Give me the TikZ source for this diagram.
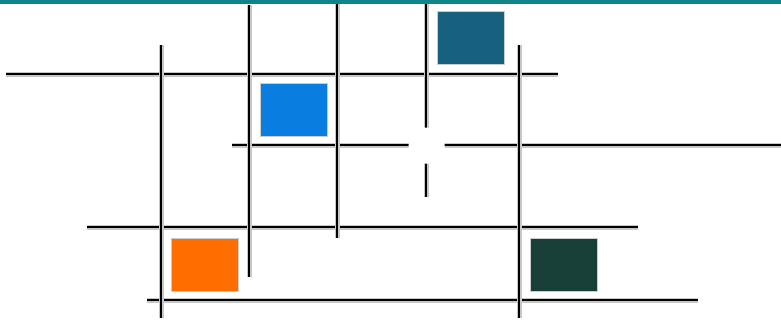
\documentclass[tikz,border=0pt]{standalone}
\begin{document}
\begin{tikzpicture}[x=1pt,y=-1pt,
  gridline/.style={line width=2.4pt,black,
    preaction={draw,line width=5pt,black!22}},
  block/.style={draw=white!80!black,line width=0.6pt,minimum width=67pt,minimum height=53pt,inner sep=0pt},
  gap/.style={fill=white,draw=none,rounded corners=6pt,minimum size=36pt,inner sep=0pt}]
\definecolor{barteal}{HTML}{108585}
\definecolor{cTeal}{HTML}{17617F}
\definecolor{cBlue}{HTML}{0A7EE0}
\definecolor{cOrange}{HTML}{FF6D00}
\definecolor{cGreen}{HTML}{173F37}
\useasboundingbox (0,0) rectangle (781,324);
\fill[white] (0,0) rectangle (781,324);
% horizontal lines
\draw[gridline] (6,74) -- (558,74);
\draw[gridline] (232,145) -- (781,145);
\draw[gridline] (87,227) -- (638,227);
\draw[gridline] (147,300) -- (698,300);
% vertical lines
\draw[gridline] (161,45) -- (161,318);
\draw[gridline] (249,5) -- (249,277);
\draw[gridline] (337,3) -- (337,238);
\draw[gridline] (426,3) -- (426,197);
\draw[gridline] (519,45) -- (519,318);
% gap
\node[gap] (g) at (426.5,145.5) {};
% blocks
\node[block,fill=cTeal] (t) at (471,37.5) {};
\node[block,fill=cBlue] (b) at (293.5,110) {};
\node[block,fill=cOrange] (o) at (205,264.5) {};
\node[block,fill=cGreen] (d) at (563.5,264.5) {};
% top bar
\fill[barteal] (0,0) rectangle (781,3.5);
\end{tikzpicture}
\end{document}
